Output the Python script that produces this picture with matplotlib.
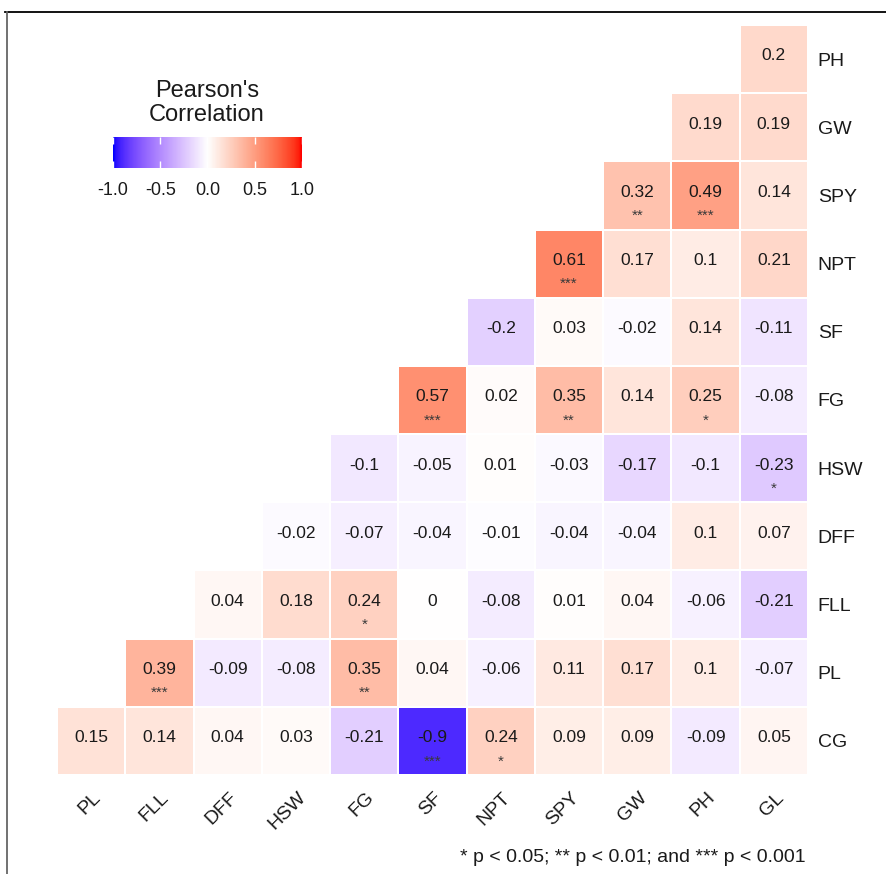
import numpy as np
import matplotlib
matplotlib.use("Agg")
import matplotlib.pyplot as plt
from matplotlib.colors import ListedColormap, Normalize
from matplotlib.transforms import ScaledTranslation
from matplotlib.lines import Line2D

plt.rcParams['font.family'] = ['Liberation Sans', 'DejaVu Sans']

# column (x) variables and row (y) variables, rows listed top to bottom
x_vars = ['PL', 'FLL', 'DFF', 'HSW', 'FG', 'SF', 'NPT', 'SPY', 'GW', 'PH', 'GL']
y_vars = ['PH', 'GW', 'SPY', 'NPT', 'SF', 'FG', 'HSW', 'DFF', 'FLL', 'PL', 'CG']

# each row holds the right-aligned cells of the lower triangle
r_PH = [0.2]
r_GW = [0.19, 0.19]
r_SPY = [0.32, 0.49, 0.14]
r_NPT = [0.61, 0.17, 0.1, 0.21]
r_SF = [-0.2, 0.03, -0.02, 0.14, -0.11]
r_FG = [0.57, 0.02, 0.35, 0.14, 0.25, -0.08]
r_HSW = [-0.1, -0.05, 0.01, -0.03, -0.17, -0.1, -0.23]
r_DFF = [-0.02, -0.07, -0.04, -0.01, -0.04, -0.04, 0.1, 0.07]
r_FLL = [0.04, 0.18, 0.24, 0, -0.08, 0.01, 0.04, -0.06, -0.21]
r_PL = [0.39, -0.09, -0.08, 0.35, 0.04, -0.06, 0.11, 0.17, 0.1, -0.07]
r_CG = [0.15, 0.14, 0.04, 0.03, -0.21, -0.9, 0.24, 0.09, 0.09, -0.09, 0.05]

s_PH = ['']
s_GW = ['', '']
s_SPY = ['**', '***', '']
s_NPT = ['***', '', '', '']
s_SF = ['', '', '', '', '']
s_FG = ['***', '', '**', '', '*', '']
s_HSW = ['', '', '', '', '', '', '*']
s_DFF = ['', '', '', '', '', '', '', '']
s_FLL = ['', '', '*', '', '', '', '', '', '']
s_PL = ['***', '', '', '**', '', '', '', '', '', '']
s_CG = ['', '', '', '', '', '***', '*', '', '', '', '']

rows = [r_PH, r_GW, r_SPY, r_NPT, r_SF, r_FG, r_HSW, r_DFF, r_FLL, r_PL, r_CG]
stars = [s_PH, s_GW, s_SPY, s_NPT, s_SF, s_FG, s_HSW, s_DFF, s_FLL, s_PL, s_CG]

legend_ticks = [-1.0, -0.5, 0.0, 0.5, 1.0]
footnote = "* p < 0.05; ** p < 0.01; and *** p < 0.001"


# blue - white - red gradient interpolated in Lab space (like ggplot's gradient2)
def srgb_to_lab(c):
    c = np.asarray(c, float)
    lin = np.where(c <= 0.04045, c / 12.92, ((c + 0.055) / 1.055) ** 2.4)
    m = np.array([[0.4124, 0.3576, 0.1805],
                  [0.2126, 0.7152, 0.0722],
                  [0.0193, 0.1192, 0.9505]])
    xyz = m @ lin / np.array([0.95047, 1.0, 1.08883])
    d = 6 / 29
    f = np.where(xyz > d ** 3, np.cbrt(xyz), xyz / (3 * d * d) + 4 / 29)
    return np.array([116 * f[1] - 16, 500 * (f[0] - f[1]), 200 * (f[1] - f[2])])


def lab_to_srgb(lab):
    L, a, b = lab
    fy = (L + 16) / 116
    fx = fy + a / 500
    fz = fy - b / 200
    d = 6 / 29
    f = np.array([fx, fy, fz])
    xyz = np.where(f > d, f ** 3, 3 * d * d * (f - 4 / 29)) * np.array([0.95047, 1.0, 1.08883])
    minv = np.array([[3.2406, -1.5372, -0.4986],
                     [-0.9689, 1.8758, 0.0415],
                     [0.0557, -0.2040, 1.0570]])
    lin = np.clip(minv @ xyz, 0, 1)
    c = np.where(lin <= 0.0031308, 12.92 * lin, 1.055 * lin ** (1 / 2.4) - 0.055)
    return np.clip(c, 0, 1)


lab_blue = srgb_to_lab([0, 0, 1])
lab_white = srgb_to_lab([1, 1, 1])
lab_red = srgb_to_lab([1, 0, 0])
cols = []
for t in np.linspace(-1, 1, 256):
    if t < 0:
        lab = lab_white + (lab_blue - lab_white) * (-t)
    else:
        lab = lab_white + (lab_red - lab_white) * t
    cols.append(lab_to_srgb(lab))
cmap = ListedColormap(cols)
norm = Normalize(-1, 1)

n = len(x_vars)
mat = np.full((n, n), np.nan)
for i, vals in enumerate(rows):
    mat[i, n - len(vals):] = vals

fig = plt.figure(figsize=(8.87, 8.74), dpi=100)
ax = fig.add_axes([57 / 887, 1 - 775 / 874, 751 / 887, 750 / 874])
ax.pcolormesh(np.arange(n + 1), np.arange(n + 1), np.ma.masked_invalid(mat),
              cmap=cmap, norm=norm, edgecolors='white', linewidth=1.2)
ax.set_xlim(0, n)
ax.set_ylim(n, 0)

for i, vals in enumerate(rows):
    off = n - len(vals)
    for k, v in enumerate(vals):
        j = off + k
        ax.text(j + 0.5, i + 0.52, f"{v:g}", ha='center', va='baseline',
                fontsize=12.5, color='#1a1a1a')
        if stars[i][k]:
            ax.text(j + 0.5, i + 0.86, stars[i][k], ha='center', va='baseline',
                    fontsize=11, color='#3a3a3a')

for sp in ax.spines.values():
    sp.set_visible(False)

ax.set_xticks(np.arange(n) + 0.5)
ax.set_xticklabels(x_vars, rotation=45, ha='right', va='top', fontsize=14, color='#1a1a1a')
ax.tick_params(axis='x', length=0, pad=10)
shift = ScaledTranslation(13 / 100, 0, fig.dpi_scale_trans)
for lab in ax.get_xticklabels():
    lab.set_transform(lab.get_transform() + shift)

ax.yaxis.tick_right()
ax.set_yticks(np.arange(n) + 0.5)
ax.set_yticklabels(y_vars, fontsize=14, color='#1a1a1a')
ax.tick_params(axis='y', length=0, pad=7)

# legend colour bar
cax = fig.add_axes([113 / 887, 1 - 168 / 874, 189 / 887, 31 / 874])
grad = np.linspace(-1, 1, 300).reshape(1, -1)
cax.imshow(grad, aspect='auto', cmap=cmap, norm=norm, extent=[-1, 1, 0, 1])
cax.set_xlim(-1, 1)
cax.set_yticks([])
cax.set_xticks(legend_ticks)
cax.set_xticklabels([f"{t:.1f}" for t in legend_ticks], fontsize=13, color='#1a1a1a')
cax.tick_params(axis='x', direction='in', length=5, width=1, color='white',
                top=True, bottom=True, pad=10)
for sp in cax.spines.values():
    sp.set_visible(False)
fig.text(207 / 887, 1 - 103 / 874, "Pearson's\nCorrelation", ha='center', va='center',
         fontsize=17, color='#1a1a1a', linespacing=1.15)

fig.text(806 / 887, 1 - 858 / 874, footnote, ha='right', va='center',
         fontsize=14, color='#1a1a1a')

# frame lines from the original screenshot
fig.add_artist(Line2D([5 / 887, 1], [1 - 12 / 874] * 2, color='black', lw=1.3))
fig.add_artist(Line2D([7 / 887] * 2, [0, 1 - 12 / 874], color='#666666', lw=1.3))

fig.savefig("out.png", dpi=100)
